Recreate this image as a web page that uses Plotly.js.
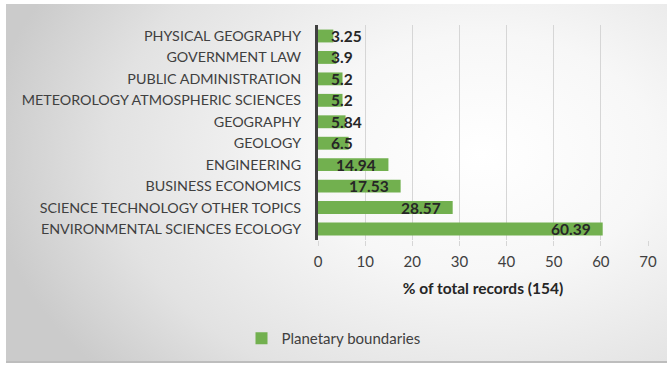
<!DOCTYPE html>
<html>
<head>
<meta charset="utf-8">
<script src="https://cdn.plot.ly/plotly-3.0.1.min.js"></script>
<style>
html,body{margin:0;padding:0;background:#fff;}
#wrap{position:relative;width:667px;height:366px;overflow:hidden;}
#panel{position:absolute;left:6px;top:4px;width:661px;height:357px;
 background:radial-gradient(ellipse 75% 95% at 72% 42%, #ffffff 0%, #f7f7f7 35%, #e2e2e2 75%, #cbcbcb 100%);
 border-bottom:2px solid #bdbdbd;}
#chart{position:absolute;left:0;top:0;width:667px;height:366px;}
</style>
</head>
<body>
<div id="wrap"><div id="panel"></div><div id="chart"></div></div>
<script>
const categories = [
  "PHYSICAL GEOGRAPHY",
  "GOVERNMENT LAW",
  "PUBLIC ADMINISTRATION",
  "METEOROLOGY ATMOSPHERIC SCIENCES",
  "GEOGRAPHY",
  "GEOLOGY",
  "ENGINEERING",
  "BUSINESS ECONOMICS",
  "SCIENCE TECHNOLOGY OTHER TOPICS",
  "ENVIRONMENTAL SCIENCES ECOLOGY"
];
const values = [3.25, 3.9, 5.2, 5.2, 5.84, 6.5, 14.94, 17.53, 28.57, 60.39];
const labels = ["3.25", "3.9", "5.2", "5.2", "5.84", "6.5", "14.94", "17.53", "28.57", "60.39"];
const seriesName = "Planetary boundaries";
const xTickValues = [0, 10, 20, 30, 40, 50, 60, 70];
const xTitle = "% of total records (154)";

const font = "Lato, 'Open Sans', sans-serif";

const trace = {
  type: "bar",
  orientation: "h",
  x: values,
  y: categories,
  name: seriesName,
  marker: {color: "#72b04f"},
  width: 0.6,
  hoverinfo: "x+y"
};

const annotations = values.map((v, i) => {
  const big = v >= 10;
  return {
    x: big ? v : 0,
    y: categories[i],
    xref: "x", yref: "y",
    text: labels[i],
    showarrow: false,
    xanchor: big ? "right" : "left",
    xshift: big ? -10 : 11,
    font: {family: font, size: 15.5, color: "#262626", weight: "bold"}
  };
});

const layout = {
  width: 667, height: 366,
  paper_bgcolor: "rgba(0,0,0,0)",
  plot_bgcolor: "rgba(0,0,0,0)",
  margin: {l: 318, r: 19, t: 25, b: 126},
  font: {family: font, size: 15, color: "#404040"},
  bargap: 0.4,
  xaxis: {
    range: [0, 70],
    tickvals: xTickValues,
    showgrid: true, gridcolor: "#d6d6d6", gridwidth: 1,
    zeroline: false,
    ticks: "outside", ticklen: 5, tickcolor: "#d6d6d6",
    ticklabelstandoff: 3,
    tickfont: {family: font, size: 15, color: "#404040"},
    title: {text: xTitle, standoff: 14, font: {family: font, size: 15.5, color: "#262626", weight: "bold"}},
    fixedrange: true
  },
  yaxis: {
    autorange: "reversed",
    type: "category",
    showline: true, linecolor: "#404040", linewidth: 3,
    showgrid: false, zeroline: false,
    ticks: "", ticklabelstandoff: 11,
    tickfont: {family: font, size: 14.3, color: "#404040"},
    fixedrange: true
  },
  showlegend: true,
  legend: {
    orientation: "h",
    x: 0.5, xref: "container", xanchor: "center",
    y: 0.075, yref: "container", yanchor: "middle",
    font: {family: font, size: 15, color: "#404040"},
    bgcolor: "rgba(0,0,0,0)",
    itemwidth: 30
  },
  annotations: annotations
};

Plotly.newPlot("chart", [trace], layout, {displayModeBar: false, staticPlot: true});
</script>
</body>
</html>
